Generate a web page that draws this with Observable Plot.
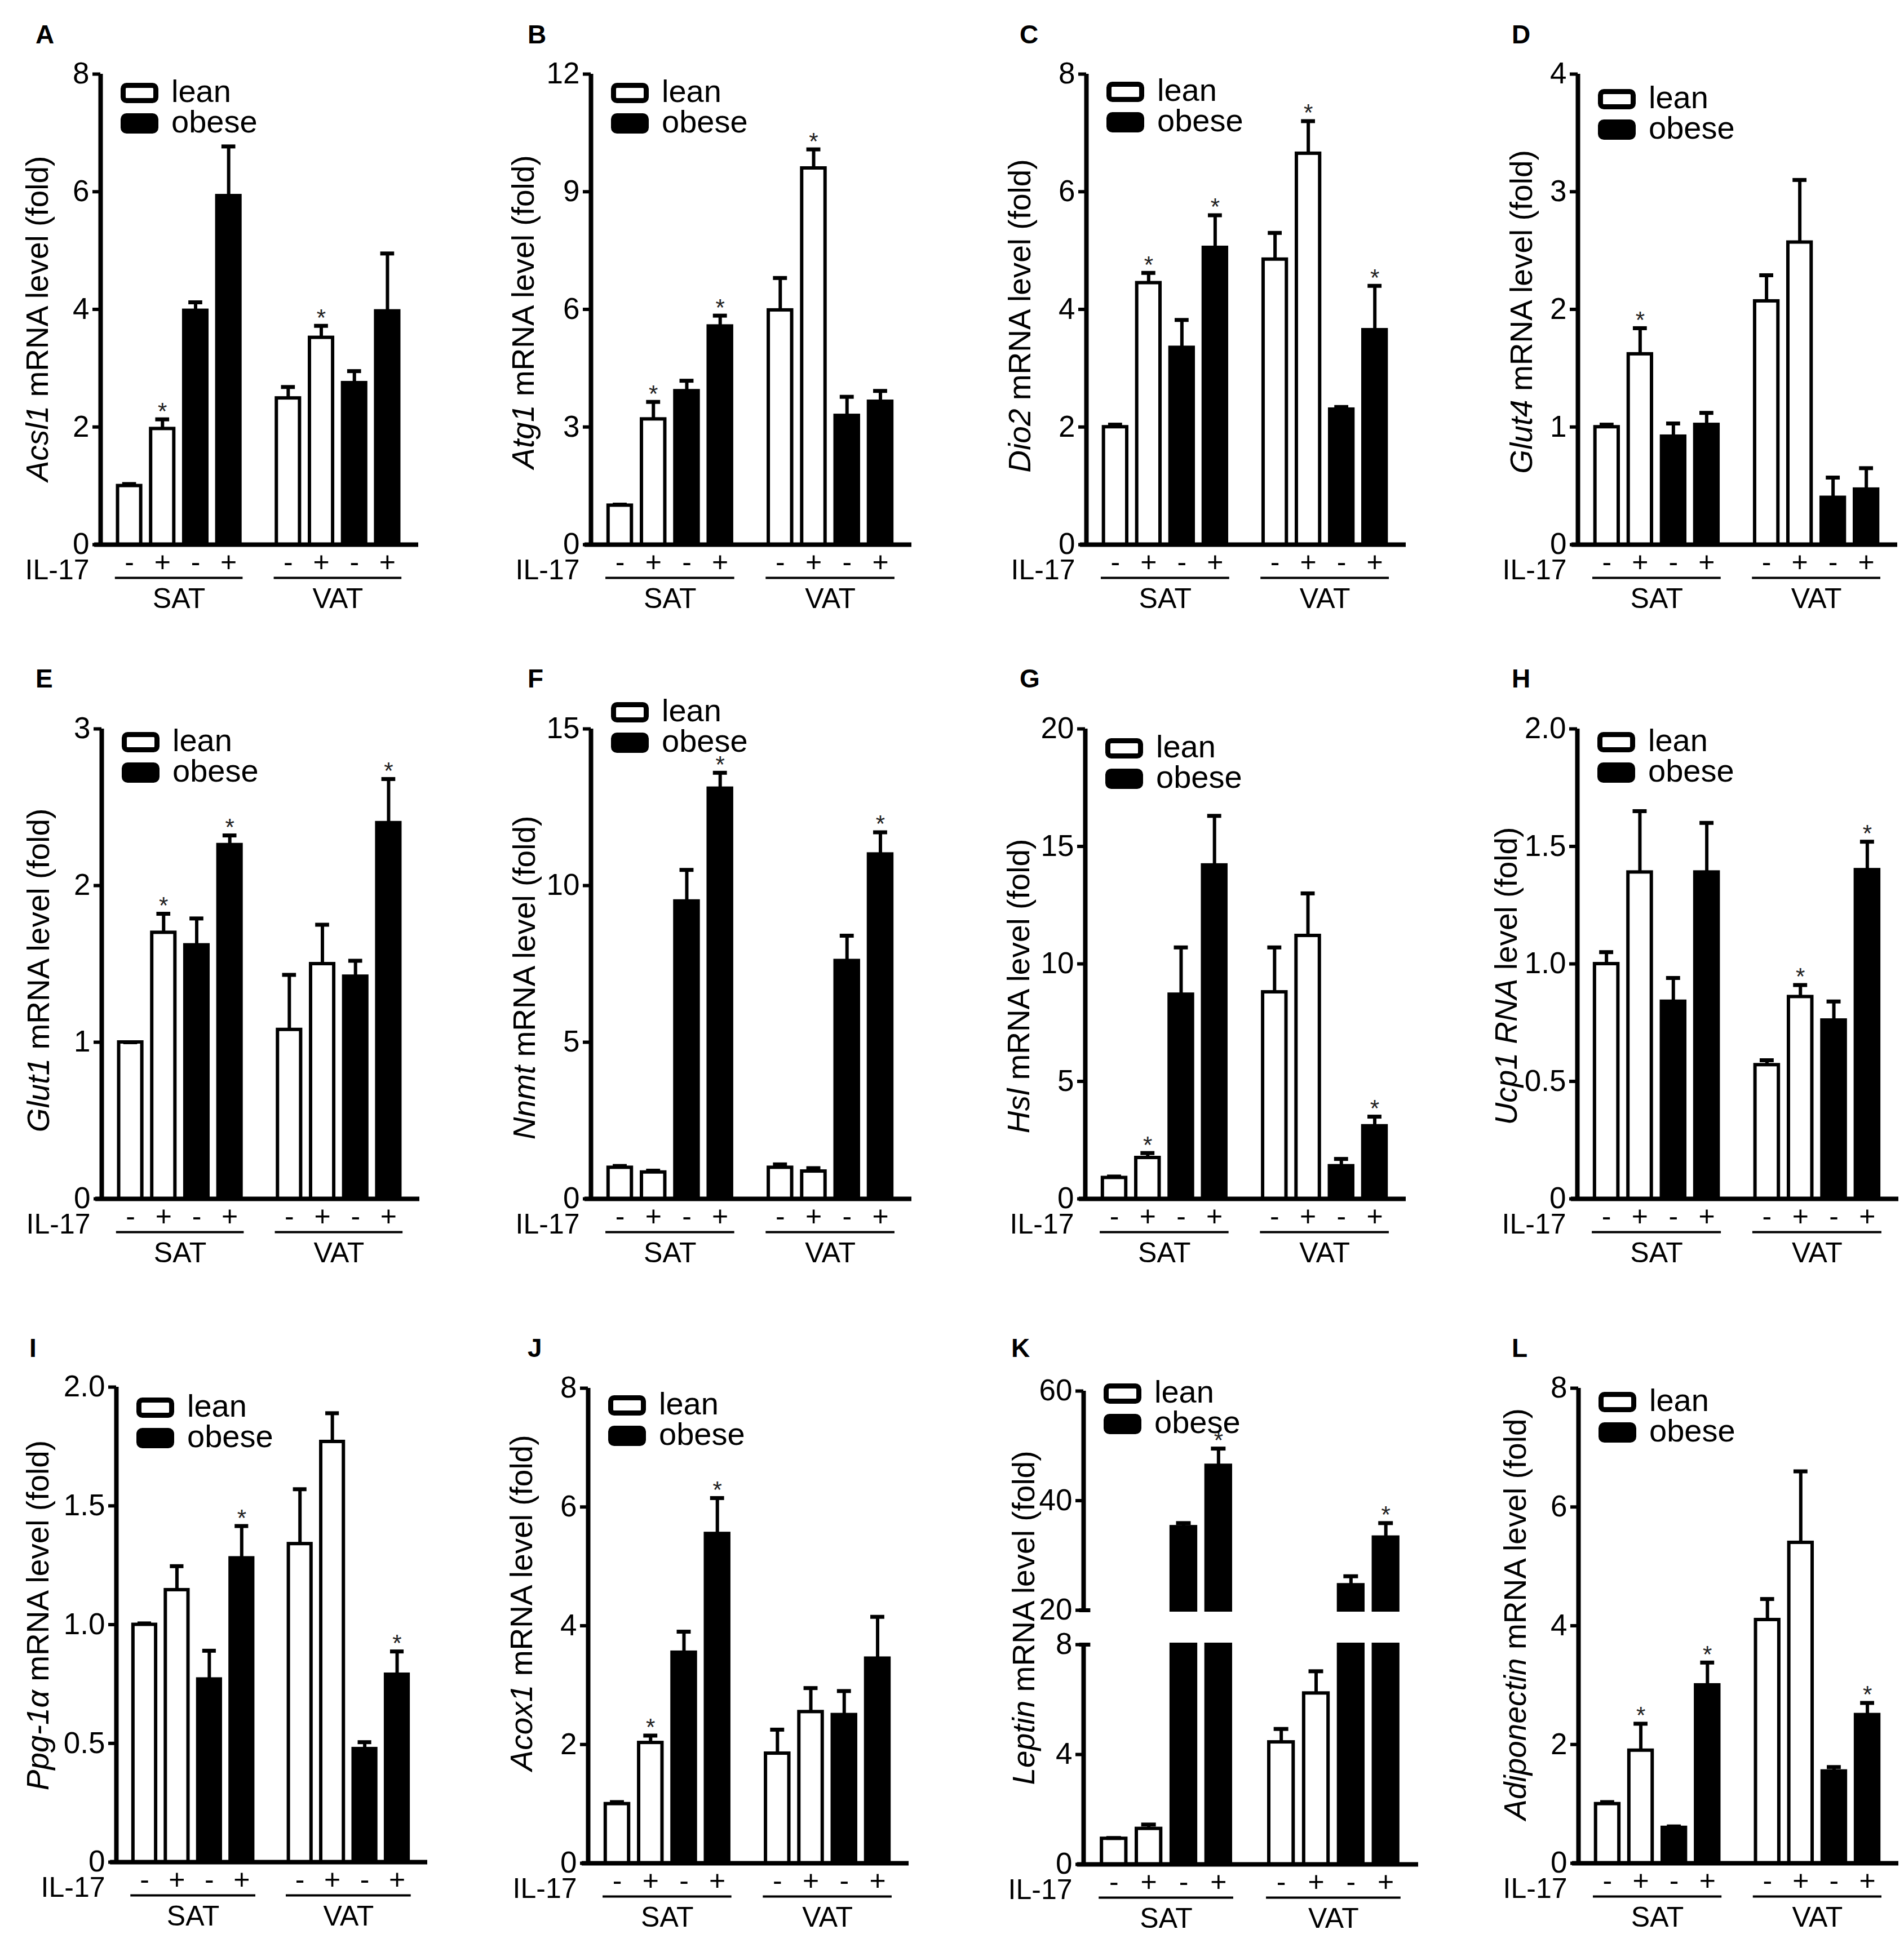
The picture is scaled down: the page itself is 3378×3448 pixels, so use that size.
<!DOCTYPE html>
<html>
<head>
<meta charset="utf-8">
<script src="https://cdn.jsdelivr.net/npm/d3@7"></script>
<script src="https://cdn.jsdelivr.net/npm/@observablehq/plot@0.6"></script>
<style>
  html, body { margin: 0; padding: 0; background: #fff; }
  #fig { position: relative; width: 3378px; height: 3448px; background: #fff; overflow: hidden;
         font-family: "Liberation Sans", Arial, sans-serif; color: #000; }
  #fig svg { position: absolute; max-width: none; }
</style>
</head>
<body>
<div id="fig"></div>
<script>
// ---------- categories ----------
const tissues = ["SAT", "VAT"];
const groups = ["lean", "obese"];
const il17 = ["-", "+"];

// ---------- series values (8 bars: SAT lean -,+ / obese -,+ ; VAT lean -,+ / obese -,+) ----------
const acsl1Mean = [1.0, 1.97, 3.98, 5.93, 2.49, 3.52, 2.75, 3.97];
const acsl1Err  = [0.03, 0.16, 0.14, 0.84, 0.19, 0.20, 0.20, 0.98];
const acsl1Star = [0, 1, 0, 0, 0, 1, 0, 0];
const acsl1Ticks = [0, 2, 4, 6, 8];

const atg1Mean = [1.0, 3.2, 3.92, 5.57, 5.98, 9.6, 3.29, 3.65];
const atg1Err  = [0.02, 0.44, 0.26, 0.27, 0.82, 0.48, 0.48, 0.27];
const atg1Star = [0, 1, 0, 1, 0, 1, 0, 0];
const atg1Ticks = [0, 3, 6, 9, 12];

const dio2Mean = [2.0, 4.45, 3.35, 5.05, 4.85, 6.65, 2.3, 3.65];
const dio2Err  = [0.04, 0.17, 0.47, 0.55, 0.45, 0.55, 0.04, 0.75];
const dio2Star = [0, 1, 0, 1, 0, 1, 0, 1];
const dio2Ticks = [0, 2, 4, 6, 8];

const glut4Mean = [1.0, 1.62, 0.92, 1.02, 2.07, 2.57, 0.40, 0.47];
const glut4Err  = [0.02, 0.22, 0.11, 0.10, 0.22, 0.53, 0.17, 0.18];
const glut4Star = [0, 1, 0, 0, 0, 0, 0, 0];
const glut4Ticks = [0, 1, 2, 3, 4];

const glut1Mean = [1.0, 1.70, 1.62, 2.26, 1.08, 1.50, 1.42, 2.40];
const glut1Err  = [0.0, 0.12, 0.17, 0.06, 0.35, 0.25, 0.10, 0.28];
const glut1Star = [0, 1, 0, 1, 0, 0, 0, 1];
const glut1Ticks = [0, 1, 2, 3];

const nnmtMean = [1.0, 0.85, 9.5, 13.1, 1.0, 0.88, 7.6, 11.0];
const nnmtErr  = [0.05, 0.05, 1.0, 0.5, 0.1, 0.1, 0.8, 0.7];
const nnmtStar = [0, 0, 0, 1, 0, 0, 0, 1];
const nnmtTicks = [0, 5, 10, 15];

const hslMean = [0.9, 1.75, 8.7, 14.2, 8.8, 11.2, 1.4, 3.1];
const hslErr  = [0.05, 0.2, 2.0, 2.1, 1.9, 1.8, 0.3, 0.4];
const hslStar = [0, 1, 0, 0, 0, 0, 0, 1];
const hslTicks = [0, 5, 10, 15, 20];

const ucp1Mean = [1.0, 1.39, 0.84, 1.39, 0.57, 0.86, 0.76, 1.40];
const ucp1Err  = [0.05, 0.26, 0.10, 0.21, 0.02, 0.05, 0.08, 0.12];
const ucp1Star = [0, 0, 0, 0, 0, 1, 0, 1];
const ucp1Ticks = [0, 0.5, 1.0, 1.5, 2.0];

const ppgMean = [1.0, 1.146, 0.77, 1.28, 1.34, 1.77, 0.477, 0.79];
const ppgErr  = [0.005, 0.10, 0.12, 0.135, 0.23, 0.12, 0.028, 0.097];
const ppgStar = [0, 0, 0, 1, 0, 0, 0, 1];
const ppgTicks = [0, 0.5, 1.0, 1.5, 2.0];

const acox1Mean = [1.0, 2.03, 3.55, 5.55, 1.85, 2.55, 2.5, 3.45];
const acox1Err  = [0.03, 0.12, 0.35, 0.6, 0.4, 0.4, 0.4, 0.7];
const acox1Star = [0, 1, 0, 1, 0, 0, 0, 0];
const acox1Ticks = [0, 2, 4, 6, 8];

const leptinMean = [0.94, 1.3, 35.2, 46.4, 4.45, 6.23, 24.6, 33.3];
const leptinErr  = [0.02, 0.15, 0.7, 3.1, 0.48, 0.8, 1.6, 2.6];
const leptinStar = [0, 0, 0, 1, 0, 0, 0, 1];
const leptinTicks = [0, 4, 8, 20, 40, 60];
const leptinBreak = [8, 20];

const adipoMean = [1.0, 1.9, 0.6, 3.0, 4.1, 5.4, 1.55, 2.5];
const adipoErr  = [0.03, 0.45, 0.02, 0.38, 0.35, 1.2, 0.07, 0.2];
const adipoStar = [0, 1, 0, 1, 0, 0, 0, 1];
const adipoTicks = [0, 2, 4, 6, 8];

// ---------- panels (content) ----------
const panels = [
  {id: "A", gene: "Acsl1", rest: " mRNA level (fold)", mean: acsl1Mean, err: acsl1Err, star: acsl1Star, ticks: acsl1Ticks},
  {id: "B", gene: "Atg1", rest: " mRNA level (fold)", mean: atg1Mean, err: atg1Err, star: atg1Star, ticks: atg1Ticks},
  {id: "C", gene: "Dio2", rest: " mRNA level (fold)", mean: dio2Mean, err: dio2Err, star: dio2Star, ticks: dio2Ticks},
  {id: "D", gene: "Glut4", rest: " mRNA level (fold)", mean: glut4Mean, err: glut4Err, star: glut4Star, ticks: glut4Ticks},
  {id: "E", gene: "Glut1", rest: " mRNA level (fold)", mean: glut1Mean, err: glut1Err, star: glut1Star, ticks: glut1Ticks},
  {id: "F", gene: "Nnmt", rest: " mRNA level (fold)", mean: nnmtMean, err: nnmtErr, star: nnmtStar, ticks: nnmtTicks},
  {id: "G", gene: "Hsl", rest: " mRNA level (fold)", mean: hslMean, err: hslErr, star: hslStar, ticks: hslTicks},
  {id: "H", gene: "Ucp1 RNA", rest: " level (fold)", mean: ucp1Mean, err: ucp1Err, star: ucp1Star, ticks: ucp1Ticks, dec: true},
  {id: "I", gene: "Ppg-1\u03b1", rest: " mRNA level (fold)", mean: ppgMean, err: ppgErr, star: ppgStar, ticks: ppgTicks, dec: true},
  {id: "J", gene: "Acox1", rest: " mRNA level (fold)", mean: acox1Mean, err: acox1Err, star: acox1Star, ticks: acox1Ticks},
  {id: "K", gene: "Leptin", rest: " mRNA level (fold)", mean: leptinMean, err: leptinErr, star: leptinStar, ticks: leptinTicks, brk: leptinBreak},
  {id: "L", gene: "Adiponectin", rest: " mRNA level (fold)", mean: adipoMean, err: adipoErr, star: adipoStar, ticks: adipoTicks},
];

// ---------- layout (page pixels) ----------
const layout = {
  A: {ax: 178,  end: 738,  top: 131,  base: 966,  lx: 63,   ly: 77,   tdx: -112, tdy: 17,  lg: 147},
  B: {ax: 1048, end: 1613, top: 131,  base: 966,  lx: 936,  ly: 77,   tdx: -120, tdy: 5,   lg: 147},
  C: {ax: 1927, end: 2490, top: 131,  base: 966,  lx: 1809, ly: 77,   tdx: -118, tdy: 12,  lg: 145},
  D: {ax: 2799, end: 3362, top: 131,  base: 966,  lx: 2682, ly: 77,   tdx: -100, tdy: 5,   lg: 158},
  E: {ax: 180,  end: 740,  top: 1293, base: 2127, lx: 63,   ly: 1220, tdx: -112, tdy: 12,  lg: 1299},
  F: {ax: 1048, end: 1613, top: 1293, base: 2127, lx: 936,  ly: 1220, tdx: -118, tdy: 25,  lg: 1246},
  G: {ax: 1925, end: 2490, top: 1293, base: 2127, lx: 1809, ly: 1220, tdx: -118, tdy: 40,  lg: 1310},
  H: {ax: 2798, end: 3364, top: 1293, base: 2127, lx: 2682, ly: 1220, tdx: -126, tdy: 22,  lg: 1299},
  I: {ax: 206,  end: 754,  top: 2461, base: 3304, lx: 52,   ly: 2408, tdx: -139, tdy: -16, lg: 2480},
  J: {ax: 1043, end: 1608, top: 2463, base: 3306, lx: 936,  ly: 2408, tdx: -118, tdy: -40, lg: 2476},
  K: {ax: 1922, end: 2512, top: 2468, base: 3308, lx: 1794, ly: 2408, tdx: -106, tdy: -17, lg: 2455,
      brkLo: 2918, brkHi: 2857},
  L: {ax: 2800, end: 3364, top: 2463, base: 3306, lx: 2682, ly: 2408, tdx: -112, tdy: -20, lg: 2470},
};

const GAP = 0.8, XMIN = -0.87, XMAX = 7 + GAP + 0.87;
const BAR = 0.35, CAP = 0.21, ULINE = 0.43;
const ML = 230, MR = 40, MT = 60, MB = 150;
const FONT = "Liberation Sans, Arial, sans-serif";

// bar rows from the categories
const cats = [];
tissues.forEach(t => groups.forEach(g => il17.forEach(s => cats.push({tissue: t, group: g, sign: s}))));
const posOf = i => i + (i >= 4 ? GAP : 0);

const fig = document.getElementById("fig");

// one y segment of a panel: values lo..hi drawn between page pixels basePx (lo) and topPx (hi)
function segment(p, L, rows, tissueRows, seg) {
  const {lo, hi, topPx, basePx, ticks, bottom, cross} = seg;
  const plotH = basePx - topPx;
  const mb = bottom ? MB : 20;
  const W = (L.end - L.ax) + ML + MR;
  const H = plotH + MT + mb;
  const inBars = rows.filter(r => r.mean > lo);
  const inErr = rows.filter(r => r.top > lo && r.top <= hi + 1e-9);
  const rectOpts = {x1: d => d.x - BAR, x2: d => d.x + BAR, y1: lo, y2: d => Math.min(d.mean, hi),
                    stroke: "black", strokeWidth: 6};
  const marks = [
    Plot.rect(inBars.filter(r => r.group === "lean"), {...rectOpts, fill: "white"}),
    Plot.rect(inBars.filter(r => r.group === "obese"), {...rectOpts, fill: "black"}),
    Plot.ruleX(inErr, {x: "x", y1: d => Math.max(d.mean, lo), y2: "top", strokeWidth: 6}),
    Plot.ruleY(inErr, {y: "top", x1: d => d.x - CAP, x2: d => d.x + CAP, strokeWidth: 7}),
    Plot.text(inErr.filter(r => r.star), {x: "x", y: "top", text: () => "*", fontSize: 42, dy: -14, fill: "#222"}),
    Plot.ruleX([XMIN], {y1: lo, y2: hi, strokeWidth: 8}),
    Plot.axisY(ticks, {tickSize: 14, tickPadding: 6, fontSize: 53, strokeWidth: 6, label: null,
      tickFormat: d => (p.dec && d !== 0) ? d.toFixed(1) : String(d)}),
  ];
  if (cross !== undefined) {
    marks.push(Plot.ruleY([cross], {x1: XMIN - 0.12, x2: XMIN + 0.2, strokeWidth: 7}));
  }
  if (bottom) {
    marks.push(
      Plot.ruleY([0], {x1: XMIN - 0.12, x2: XMAX, strokeWidth: 8, strokeLinecap: "square"}),
      Plot.text(rows, {x: "x", text: "sign", frameAnchor: "bottom", dy: 47, lineAnchor: "bottom", fontSize: 50}),
      Plot.text(["IL-17"], {text: d => d, frameAnchor: "bottom-left", textAnchor: "end", dx: -20, dy: 61, lineAnchor: "bottom", fontSize: 50}),
      Plot.ruleY(tissueRows, {y: 0, x1: "x1", x2: "x2", dy: 59, strokeWidth: 4}),
      Plot.text(tissueRows, {x: "xc", text: "tissue", frameAnchor: "bottom", dy: 112, lineAnchor: "bottom", fontSize: 50})
    );
  }
  const svg = Plot.plot({
    width: W, height: H,
    marginLeft: ML, marginRight: MR, marginTop: MT, marginBottom: mb,
    x: {domain: [XMIN, XMAX], axis: null},
    y: {domain: [lo, hi], label: null},
    style: {fontFamily: FONT, color: "black", background: "transparent", overflow: "visible"},
    marks
  });
  svg.style.left = (L.ax - ML) + "px";
  svg.style.top = (topPx - MT) + "px";
  fig.appendChild(svg);
}

panels.forEach(p => {
  const L = layout[p.id];
  const rows = cats.map((c, i) => ({...c, x: posOf(i), mean: p.mean[i], top: p.mean[i] + p.err[i], star: p.star[i]}));
  const tissueRows = tissues.map(t => {
    const xs = rows.filter(r => r.tissue === t).map(r => r.x);
    return {tissue: t, x1: d3.min(xs) - ULINE, x2: d3.max(xs) + ULINE, xc: (d3.min(xs) + d3.max(xs)) / 2};
  });
  const ymax = d3.max(p.ticks);
  if (p.brk) {
    const [lo, hi] = p.brk;
    segment(p, L, rows, tissueRows, {lo: 0, hi: lo, topPx: L.brkLo, basePx: L.base,
      ticks: p.ticks.filter(t => t <= lo), bottom: true, cross: lo});
    segment(p, L, rows, tissueRows, {lo: hi, hi: ymax, topPx: L.top, basePx: L.brkHi,
      ticks: p.ticks.filter(t => t >= hi), bottom: false, cross: hi});
  } else {
    segment(p, L, rows, tissueRows, {lo: 0, hi: ymax, topPx: L.top, basePx: L.base,
      ticks: p.ticks, bottom: true});
  }
});

// ---------- overlay: panel letters, y titles, legends ----------
const ov = d3.select(fig).append("svg")
  .attr("width", 3378).attr("height", 3448)
  .style("left", "0px").style("top", "0px")
  .attr("font-family", FONT);

panels.forEach(p => {
  const L = layout[p.id];
  ov.append("text").attr("x", L.lx).attr("y", L.ly)
    .attr("font-size", 46).attr("font-weight", "bold").text(p.id);

  const cx = L.ax + L.tdx, cy = (L.top + L.base) / 2 + L.tdy;
  const t = ov.append("text")
    .attr("transform", `translate(${cx},${cy}) rotate(-90)`)
    .attr("text-anchor", "middle").attr("dominant-baseline", "central")
    .attr("font-size", 55);
  t.append("tspan").attr("font-style", "italic").text(p.gene);
  t.append("tspan").text(p.rest);

  groups.forEach((g, k) => {
    const y = L.lg + k * 54;
    ov.append("rect").attr("x", L.ax + 36 + 4.5).attr("y", y + 4.5)
      .attr("width", 58).attr("height", 27).attr("rx", 6)
      .attr("fill", g === "lean" ? "white" : "black")
      .attr("stroke", "black").attr("stroke-width", 9);
    ov.append("text").attr("x", L.ax + 126).attr("y", y + 18 + 16)
      .attr("font-size", 56).text(g);
  });
});
</script>
</body>
</html>
